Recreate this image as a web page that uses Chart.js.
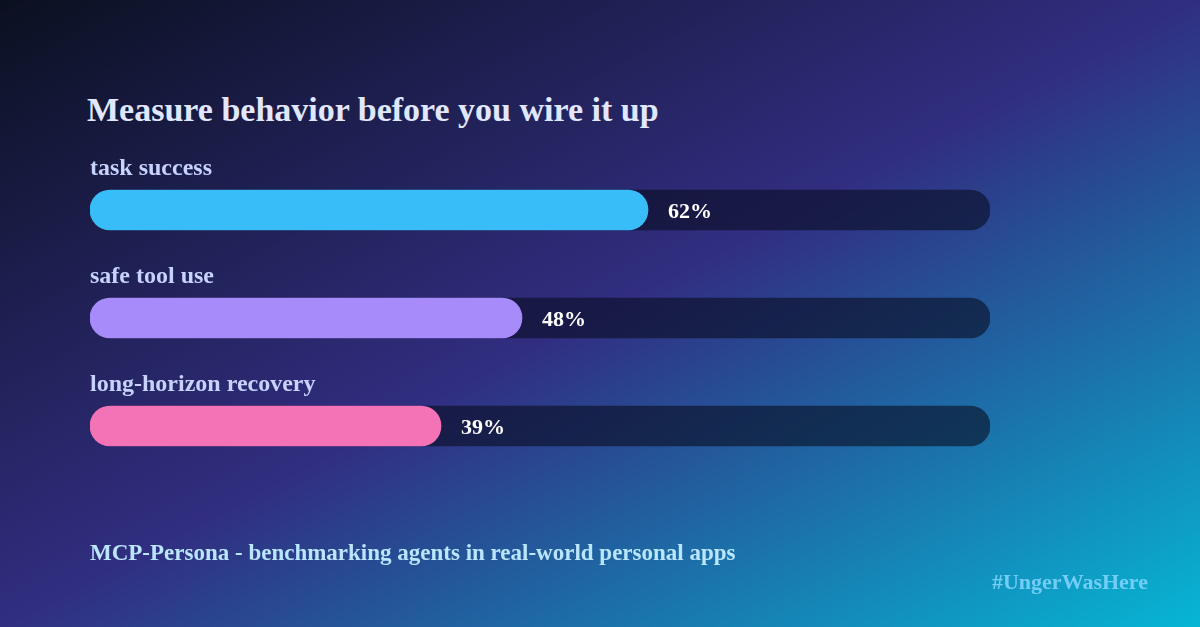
<!DOCTYPE html>
<html>
<head>
<meta charset="utf-8">
<script src="https://cdn.jsdelivr.net/npm/chart.js@4"></script>
<style>
  html, body { margin: 0; padding: 0; }
  body {
    width: 1200px; height: 627px; overflow: hidden; position: relative;
    background: linear-gradient(to bottom right, #0b1020 0%, #312e81 50%, #06b6d4 100%);
    font-family: "Liberation Serif", "Times New Roman", serif;
  }
  #chart { position: absolute; left: 0; top: 0; }
  .txt { position: absolute; font-weight: bold; white-space: nowrap; }
  #title { left: 87px; top: 90px; font-size: 34px; line-height: 40px; color: #e0e7ff; }
  #footer { left: 90px; top: 539px; font-size: 23px; line-height: 28px; color: #bae6fd; }
  #tag { right: 52px; top: 568px; font-size: 22px; line-height: 28px; color: rgba(125, 211, 252, 0.9); }
</style>
</head>
<body>
<div id="title" class="txt">Measure behavior before you wire it up</div>
<canvas id="chart" width="1200" height="627"></canvas>
<div id="footer" class="txt">MCP-Persona - benchmarking agents in real-world personal apps</div>
<div id="tag" class="txt">#UngerWasHere</div>
<script>
// data
const categories = ['task success', 'safe tool use', 'long-horizon recovery'];
const values = [62, 48, 39];
const trackMax = [100, 100, 100];
const barColors = ['#38bdf8', '#a78bfa', '#f472b6'];

// labels above bars + percent after the fill
const barText = {
    id: 'barText',
    afterDatasetsDraw(chart) {
        const ctx = chart.ctx;
        const bars = chart.getDatasetMeta(0).data;
        ctx.save();
        ctx.textBaseline = 'alphabetic';
        ctx.textAlign = 'left';
        bars.forEach((bar, i) => {
            const top = bar.y - bar.height / 2;
            ctx.font = 'bold 24px "Liberation Serif", serif';
            ctx.fillStyle = '#c7d2fe';
            ctx.fillText(categories[i], chart.chartArea.left, top - 15);

            ctx.font = 'bold 22px "Liberation Serif", serif';
            ctx.fillStyle = '#ffffff';
            ctx.fillText(values[i] + '%', bar.x + 20, bar.y + 8);
        });
        ctx.restore();
    }
};

const ctx = document.getElementById('chart').getContext('2d');
new Chart(ctx, {
    type: 'bar',
    data: {
        labels: categories,
        datasets: [{
            data: values,
            backgroundColor: barColors,
            borderRadius: 20,
            borderSkipped: false,
            barThickness: 40,
            grouped: false,
            order: 0
        }, {
            data: trackMax,
            backgroundColor: 'rgba(8, 12, 32, 0.6)',
            borderRadius: 20,
            borderSkipped: false,
            barThickness: 40,
            grouped: false,
            order: 1
        }]
    },
    options: {
        indexAxis: 'y',
        responsive: false,
        animation: false,
        layout: {
            padding: { left: 90, right: 210, top: 156, bottom: 147 }
        },
        scales: {
            x: { display: false, min: 0, max: 100 },
            y: { display: false }
        },
        plugins: {
            legend: { display: false },
            tooltip: { enabled: false }
        }
    },
    plugins: [barText]
});
</script>
</body>
</html>
